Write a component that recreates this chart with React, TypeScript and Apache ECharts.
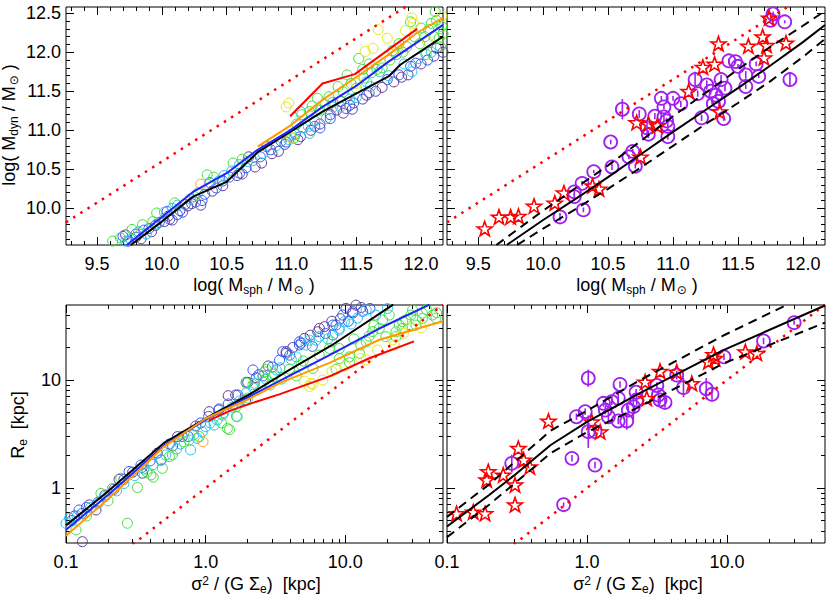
import React, { useEffect, useRef } from 'react';
import * as echarts from 'echarts';

const FONT = '"Liberation Sans", Arial, Helvetica, sans-serif';
const PURPLE = '#A020F0';
const RED = '#FF0000';

// ---------- tick values ----------
const massMajor = [9.5, 10.0, 10.5, 11.0, 11.5, 12.0];
const dynMajor = [10.0, 10.5, 11.0, 11.5, 12.0, 12.5];
const sizeMajor = [0.1, 1, 10];
const reMajor = [1, 10];

// ---------- top-left: model sample, coloured circles ----------
const TL_purple: number[][] = [[9.72,9.66],[9.84,9.61],[9.92,9.70],[10.02,9.83],[10.08,9.85],[10.20,10.03],[10.30,10.04],[10.39,10.22],[10.47,10.29],[10.62,10.44],[10.67,10.66],[10.72,10.53],[10.77,10.58],[10.90,10.73],[10.96,10.85],[11.30,11.20],[11.35,11.26],[11.45,11.32],[11.47,11.27],[11.38,11.37],[11.65,11.50],[11.79,11.62],[11.90,11.71],[12.17,12.00],[11.55,11.40],[11.15,11.00],[9.80,9.63],[9.95,9.78],[10.05,9.90],[10.14,9.97],[10.23,10.06],[10.58,10.42],[10.85,10.70],[11.05,10.88],[11.22,11.08],[11.40,11.22],[11.58,11.45],[11.70,11.55],[11.85,11.68],[12.0,11.85],[12.1,11.95]];
const TL_blue: number[][] = [[9.70,9.64],[9.80,9.67],[9.90,9.74],[10.04,9.96],[10.06,9.86],[10.16,9.95],[10.31,10.10],[10.37,10.33],[10.42,10.26],[10.60,10.45],[10.81,10.79],[10.84,10.75],[11.07,10.92],[11.18,11.05],[11.22,11.03],[11.74,11.65],[11.83,11.71],[11.92,11.82],[12.05,11.90],[10.12,9.92],[10.26,10.08],[10.52,10.40],[10.95,10.82],[11.42,11.28],[9.74,9.58],[9.86,9.72],[9.98,9.82],[10.18,10.05],[10.33,10.18],[10.47,10.35],[10.65,10.52],[10.76,10.66],[10.92,10.86],[11.03,10.95],[11.30,11.15],[11.48,11.35],[11.60,11.48],[11.96,11.86],[12.12,12.05]];
const TL_cyan: number[][] = [[9.76,9.60],[9.88,9.67],[9.96,9.80],[10.08,10.00],[10.12,10.04],[10.44,10.35],[10.60,10.56],[10.70,10.61],[11.07,11.24],[11.13,11.05],[11.09,11.03],[11.14,10.96],[11.27,11.15],[11.61,11.56],[11.68,11.75],[11.87,11.85],[11.93,11.75],[10.22,10.12],[10.54,10.48],[10.88,10.80],[11.00,10.95],[11.50,11.42],[11.32,11.30],[9.72,9.58],[9.82,9.70],[10.02,9.95],[10.28,10.20],[10.48,10.42],[10.66,10.60],[10.78,10.70],[10.98,10.88],[11.18,11.12],[11.38,11.30],[11.45,11.40],[11.58,11.62],[11.75,11.70],[11.98,11.92],[12.08,12.0]];
const TL_green: number[][] = [[9.62,9.58],[9.77,9.73],[9.93,9.83],[9.96,9.94],[10.25,10.15],[10.35,10.43],[10.55,10.58],[11.08,11.20],[11.14,11.24],[11.20,11.41],[11.22,11.26],[11.29,11.43],[11.36,11.56],[11.43,11.71],[11.50,11.54],[11.52,11.92],[11.56,11.67],[11.81,11.97],[11.83,12.11],[11.89,12.07],[11.92,12.39],[12.00,12.31],[12.03,12.20],[12.04,11.97],[12.06,12.29],[12.11,12.52],[12.12,12.41],[12.14,12.18],[12.15,12.07],[11.99,12.11],[12.10,12.20],[12.17,12.24],[11.70,11.80],[11.02,10.90],[11.32,11.36],[11.62,11.74],[9.68,9.62],[9.85,9.79],[10.10,10.07],[10.40,10.40],[10.62,10.63],[11.04,11.08],[11.16,11.31],[11.26,11.33],[11.40,11.49],[11.46,11.60],[11.60,11.85],[11.66,11.78],[11.76,11.90],[11.86,12.00],[11.95,12.20],[12.08,12.37],[12.16,12.33],[11.55,11.78],[11.78,12.02]];
const TL_yellow: number[][] = [[10.96,11.30],[10.98,11.35],[11.57,12.01],[11.63,12.05],[11.67,12.29],[11.74,12.18],[11.93,12.44],[11.94,12.37],[12.16,12.46],[11.00,10.90],[11.50,11.60],[11.82,12.06],[12.05,12.14],[11.88,12.28]];
const TL_orange: number[][] = [[10.30,10.31]];

const TL_black: number[][] = [[9.76,9.53],[10.0,9.83],[10.24,10.15],[10.5,10.34],[10.74,10.72],[10.99,10.98],[11.24,11.24],[11.51,11.48],[11.75,11.69],[11.84,11.84],[12.17,12.2]];
const TL_blueLine: number[][] = [[9.73,9.53],[10.0,9.89],[10.24,10.21],[10.5,10.45],[10.74,10.75],[10.99,11.0],[11.24,11.30],[11.51,11.58],[11.75,11.88],[12.17,12.35]];
const TL_orangeLine: number[][] = [[10.74,10.79],[11.0,11.07],[11.24,11.39],[11.49,11.67],[11.75,11.97],[11.97,12.25],[12.17,12.44]];
const TL_redLine: number[][] = [[10.99,11.18],[11.24,11.6],[11.49,11.72],[11.97,12.3]];
const massOneToOne: number[][] = [[9.26,9.82],[11.88,12.58]];

// ---------- top-right: observed ----------
const TR_circles: number[][] = [[10.13,9.89,0.05],[10.24,10.21,0.04],[10.24,10.15,0.04],[10.30,10.32,0.03],[10.31,9.98,0.03],[10.39,10.47,0.02],[10.52,10.85,0.03],[10.53,10.53,0.04],[10.61,11.27,0.13],[10.66,10.66,0.03],[10.69,10.73,0.03],[10.71,10.54,0.03],[10.74,11.21,0.05],[10.80,11.03,0.10],[10.81,10.95,0.05],[10.86,11.18,0.04],[10.91,11.41,0.03],[10.93,11.30,0.03],[10.93,11.17,0.05],[10.95,11.12,0.04],[10.96,11.05,0.04],[10.96,10.92,0.04],[11.00,11.41,0.03],[11.06,11.34,0.04],[11.17,11.65,0.10],[11.19,11.47,0.04],[11.22,11.16,0.04],[11.26,11.58,0.06],[11.29,11.50,0.04],[11.33,11.45,0.04],[11.31,11.34,0.03],[11.35,11.37,0.04],[11.37,11.65,0.06],[11.40,11.54,0.04],[11.39,11.15,0.03],[11.43,11.89,0.03],[11.48,11.88,0.02],[11.50,11.82,0.03],[11.56,11.71,0.05],[11.56,11.56,0.03],[11.64,11.85,0.03],[11.66,11.69,0.02],[11.77,12.49,0.03],[11.75,12.41,0.03],[11.86,12.39,0.02],[11.90,11.65,0.09]];
const TR_stars: number[][] = [[9.55,9.74],[9.66,9.89],[9.75,9.89],[9.81,9.90],[9.93,10.03],[10.09,10.07],[10.16,10.20],[10.38,10.29],[10.43,10.25],[10.75,10.66],[10.72,11.10],[10.81,11.08],[10.88,11.06],[11.12,11.50],[11.23,11.81],[11.32,11.85],[11.35,12.11],[11.36,11.24],[11.58,12.08],[11.69,12.20],[11.72,12.09],[11.70,11.93],[11.87,12.12],[11.74,12.44]];
const TR_fit: number[][] = [[9.72,9.53],[10.0,9.85],[10.25,10.12],[10.5,10.40],[10.75,10.69],[11.0,10.98],[11.25,11.26],[11.5,11.54],[11.75,11.83],[12.0,12.13],[12.17,12.35]];
const TR_fitHi: number[][] = [[9.64,9.53],[10.0,9.97],[10.25,10.26],[10.5,10.55],[10.75,10.86],[11.0,11.18],[11.25,11.48],[11.5,11.78],[11.75,12.07],[12.0,12.34],[12.17,12.53]];
const TR_fitLo: number[][] = [[9.80,9.53],[10.0,9.74],[10.25,9.99],[10.5,10.25],[10.75,10.52],[11.0,10.80],[11.25,11.08],[11.5,11.35],[11.75,11.63],[12.0,11.94],[12.17,12.17]];

// ---------- bottom-left: model sample (kpc) ----------
const BL_purple: number[][] = [[0.131,0.318],[0.147,0.697],[0.164,0.625],[0.353,1.37],[0.628,2.99],[1.64,7.26],[1.45,7.16],[3.77,18.3],[3.77,17.7],[5.09,24.3],[6.34,28.0],[6.52,30.1],[7.08,31.2],[10.1,46.1],[11.3,41.7],[11.9,49.4],[0.24,1.2],[0.45,2.1],[2.3,10.5],[9.2,37.0],[1.06,5.09],[0.115,0.55],[0.19,0.86],[0.30,1.40],[0.55,2.55],[0.85,3.75],[2.0,9.5],[2.8,13.5],[4.2,20.0],[5.6,26.0],[8.0,35.0],[13.0,47.0]];
const BL_blue: number[][] = [[0.283,1.42],[0.344,1.63],[1.70,7.26],[1.95,9.53],[2.18,12.4],[2.57,10.9],[3.38,15.3],[3.56,18.3],[4.69,22.6],[4.82,21.9],[4.69,21.1],[8.13,26.1],[8.57,32.3],[9.57,40.0],[11.3,43.0],[0.11,0.50],[0.13,0.58],[0.17,0.74],[0.22,0.97],[0.40,1.78],[0.58,2.45],[0.75,3.0],[1.05,4.6],[1.25,5.4],[13.3,43.3],[8.13,32.3],[1.24,5.27],[1.93,6.53],[0.478,1.82],[0.124,0.625],[0.14,0.66],[0.26,1.20],[0.35,1.55],[0.68,3.00],[0.92,4.00],[1.45,6.0],[2.4,11.2],[3.0,13.2],[4.0,17.0],[5.8,20.5],[7.2,27.0],[10.5,35.0],[15.0,46.0]];
const BL_cyan: number[][] = [[0.106,0.524],[0.518,2.02],[0.78,2.25],[0.946,3.31],[2.24,9.33],[3.2,12.4],[4.45,16.4],[5.24,21.1],[6.17,23.4],[9.02,29.0],[14.1,44.5],[1.66,4.61],[0.12,0.55],[0.15,0.66],[0.19,0.83],[0.26,1.10],[0.31,1.30],[0.36,1.50],[0.66,2.55],[0.87,2.88],[1.15,3.83],[1.35,5.0],[1.55,5.6],[1.95,7.6],[2.7,10.2],[5.53,23.4],[6.52,25.2],[9.06,30.1],[12.2,37.5],[9.84,34.7],[1.0,3.70],[1.21,4.27],[1.32,4.74],[0.10,0.47],[0.17,0.72],[0.23,0.94],[0.42,1.65],[0.48,1.80],[0.62,2.30],[0.82,3.10],[1.08,4.00],[1.75,6.40],[2.2,8.4],[3.4,13.0],[4.1,15.5],[7.5,24.0],[11.0,33.0],[16.5,40.0],[20.0,46.0]];
const BL_green: number[][] = [[0.118,0.408],[0.275,0.471],[0.325,1.01],[0.405,1.32],[0.421,1.26],[0.49,1.52],[1.43,3.56],[1.68,4.57],[1.48,3.47],[2.56,9.64],[2.64,11.9],[3.03,10.7],[4.82,13.8],[9.06,19.6],[10.7,16.4],[12.6,17.7],[14.1,22.6],[15.7,28.1],[17.5,30.1],[18.5,36.0],[20.6,40.0],[23.0,25.2],[24.3,32.3],[25.7,30.1],[29.4,40.0],[32.0,32.3],[35.6,37.2],[30.3,44.5],[42.1,40.0],[7.69,19.6],[5.85,12.8],[9.06,15.8],[12.9,21.1],[14.8,25.5],[19.5,25.2],[23.0,28.0],[25.7,34.7],[32.0,36.0],[35.6,41.7],[44.5,37.5],[1.95,9.38],[2.18,9.06],[2.71,12.6],[3.11,11.35],[3.98,12.6],[4.45,10.9],[8.57,12.6],[10.7,14.5],[1.66,5.7],[0.178,0.89],[0.215,0.99],[0.247,1.23],[0.70,2.68],[0.76,2.78],[0.578,2.02],[0.14,0.55],[0.2,0.76],[0.38,1.40],[0.55,1.95],[0.9,3.0],[1.3,4.0],[2.0,6.8],[2.9,9.0],[3.5,10.2],[5.0,15.0],[6.5,17.0],[8.0,22.5],[11.5,24.0],[16.0,32.0],[27.0,36.0],[38.0,45.0],[45.0,42.0]];
const BL_yellow: number[][] = [[5.69,9.31],[6.89,10.0],[12.9,15.8],[22.4,21.1],[5.53,8.73],[14.1,15.4],[21.8,23.6],[29.4,31.4],[5.09,9.77],[5.85,9.12],[8.0,12.0],[10.0,13.5],[17.0,19.0],[26.0,27.0],[35.0,30.5]];
const BL_orange: number[][] = [[0.957,2.68]];

const BL_black: number[][] = [[0.1,0.45],[0.2,0.93],[0.5,2.6],[1.0,4.4],[2.0,7.2],[4.0,12.5],[8.0,21.0],[22,50]];
const BL_blueLine: number[][] = [[0.1,0.41],[0.2,0.86],[0.5,2.45],[1.0,4.3],[2.0,6.9],[4.0,11.0],[7.7,17.0],[17.5,30.0],[40,50]];
const BL_orangeLine: number[][] = [[0.1,0.36],[0.2,0.79],[0.5,2.4],[1.0,4.4],[2.0,6.6],[3.4,9.4],[7.7,14.4],[17.5,23.6],[50,35]];
const BL_redLine: number[][] = [[1.05,4.2],[1.5,5.2],[2.3,6.3],[3.4,7.4],[7.7,10.8],[15,16],[31,22.8]];
const sizeOneToOne: number[][] = [[0.3,0.3],[50,50]];

// ---------- bottom-right: observed (kpc), error in dex ----------
const BR_circles: number[][] = [[0.29,1.69,0.08],[0.68,0.70,0.02],[0.78,1.88,0.03],[0.84,4.57,0.03],[0.97,5.09,0.03],[1.02,10.4,0.08],[1.02,3.32,0.15],[1.14,3.32,0.04],[1.14,1.63,0.03],[1.31,6.08,0.03],[1.35,5.27,0.04],[1.42,4.57,0.05],[1.50,6.3,0.03],[1.67,6.77,0.04],[1.67,4.17,0.03],[1.72,9.1,0.03],[1.92,4.17,0.08],[1.97,5.27,0.04],[2.14,5.66,0.12],[2.24,7.7,0.03],[2.26,6.53,0.05],[3.15,8.9,0.03],[3.23,7.26,0.05],[3.32,6.53,0.04],[3.6,6.2,0.05],[4.37,11.1,0.04],[4.88,8.5,0.09],[7.1,8.3,0.1],[7.8,7.37,0.05],[9.5,16.4,0.03],[18.2,23.0,0.03],[30.1,34.0,0.02]];
const BR_stars: number[][] = [[0.117,0.58],[0.154,0.60],[0.187,0.58],[0.197,1.42],[0.192,1.19],[0.252,1.32],[0.323,2.33],[0.306,1.07],[0.306,0.70],[0.353,1.82],[0.39,1.57],[0.53,4.17],[1.08,4.11],[1.24,3.32],[2.6,9.6],[2.67,6.77],[3.32,12.1],[4.37,11.9],[5.6,9.3],[7.35,14.8],[8.2,15.9],[8.0,17.3],[13.5,18.3],[16.3,17.7]];
const BR_fit: number[][] = [[0.1,0.44],[0.2,0.86],[0.3,1.3],[0.55,2.5],[1.0,4.1],[2.4,7.6],[9.5,19],[50,49]];
const BR_fitHi: number[][] = [[0.1,0.54],[0.2,1.08],[0.55,3.4],[1.0,5.2],[2.4,10],[9.5,26],[27,50]];
const BR_fitLo: number[][] = [[0.1,0.35],[0.2,0.7],[0.55,2.1],[1.0,3.3],[2.4,5.7],[9.5,14.3],[50,34]];

// ---------- helpers ----------
const L = (v: number) => Math.log10(v);
const logPts = (d: number[][]) => d.map(p => [L(p[0]), L(p[1])]);
const logErr = (d: number[][]) => d.map(p => [L(p[0]), L(p[1]), p[2]]);
const steps = (a: number, b: number, s: number) => {
  const out: number[] = [];
  for (let v = a; v <= b + 1e-9; v += s) out.push(Math.round(v * 100) / 100);
  return out;
};
const logMinor = (lo: number, hi: number) => {
  const out: number[] = [];
  [0.1, 1, 10].forEach(dec => { for (let k = 2; k <= 9; k++) { const v = k * dec; if (v > lo && v < hi) out.push(L(v)); } });
  return out;
};

const STAR = 'path://M0,-10 L2.35,-3.24 L9.51,-3.09 L3.8,1.24 L5.88,8.09 L0,4 L-5.88,8.09 L-3.8,1.24 L-9.51,-3.09 L-2.35,-3.24 Z';

function axes(grid: number, dim: 'x' | 'y', min: number, max: number, majors: number[], minors: number[], fmt: ((v: number) => string) | null) {
  const pos = dim === 'x' ? ['bottom', 'top', 'bottom', 'top'] : ['left', 'right', 'left', 'right'];
  return pos.map((p, i) => ({
    type: 'value', gridIndex: grid, position: p, min, max,
    axisLine: { show: false, onZero: false },
    splitLine: { show: false },
    axisPointer: { show: false },
    axisTick: { show: true, inside: true, length: i < 2 ? 8 : 4, customValues: i < 2 ? majors : minors, lineStyle: { color: '#000', width: 1 } },
    axisLabel: i === 0 && fmt ? { show: true, customValues: majors, formatter: fmt, color: '#000', fontSize: 18, fontFamily: FONT, margin: dim === 'x' ? 10 : 5 } : { show: false },
  }));
}

function sc(g: number, data: number[][], color: string, size: number, bw: number, symbol = 'circle') {
  return { type: 'scatter', xAxisIndex: 4 * g, yAxisIndex: 4 * g, data, symbol, symbolSize: size, symbolKeepAspect: true, silent: true, z: 2,
    itemStyle: { color: 'rgba(0,0,0,0)', borderColor: color, borderWidth: bw, opacity: 1 } };
}
function ln(g: number, data: number[][], color: string, width: number, type: any = 'solid', z = 4) {
  return { type: 'line', xAxisIndex: 4 * g, yAxisIndex: 4 * g, data, symbol: 'none', showSymbol: false, silent: true, clip: true, z,
    lineStyle: { color, width, type, cap: 'butt' } };
}
function err(g: number, data: number[][]) {
  return { type: 'custom', xAxisIndex: 4 * g, yAxisIndex: 4 * g, data, silent: true, z: 3, clip: true,
    encode: { x: 0, y: 1 },
    renderItem: (_p: any, api: any) => {
      const x = api.value(0), y = api.value(1), e = api.value(2);
      const a = api.coord([x, y - e]); const b = api.coord([x, y + e]);
      return { type: 'line', shape: { x1: a[0], y1: a[1], x2: b[0], y2: b[1] }, style: { stroke: PURPLE, lineWidth: 1.6 } };
    } };
}

const COL = { purple: '#5E3A98', blue: '#2F55F5', cyan: '#22C4EE', green: '#3CE23C', yellow: '#E6E61E', orange: '#FFA020' };
const DOT = [2.5, 6];

const sub = { fontSize: 12, fontFamily: FONT, padding: [9, 0, 0, 0] };
const sun = { fontSize: 12, fontFamily: '"DejaVu Sans", sans-serif', padding: [9, 0, 0, 1] };
const main = { fontSize: 18, fontFamily: FONT };
const sup = { fontSize: 12, fontFamily: FONT, padding: [0, 0, 7, 0] };

function title(x: number, y: number, text: string, rot = 0) {
  return { type: 'text', x, y, rotation: rot, silent: true,
    style: { text, fill: '#000', align: 'center', verticalAlign: 'middle', rich: { m: main, s: sub, o: sun, u: sup } } };
}

export default function App() {
  const ref = useRef<HTMLDivElement>(null);
  useEffect(() => {
    if (!ref.current) return;
    const chart = echarts.init(ref.current, null, { renderer: 'svg' });
    const mFmt = (v: number) => v.toFixed(1);
    const sFmt = (v: number) => Math.pow(10, v).toFixed(1);
    const rFmt = (v: number) => String(Math.round(Math.pow(10, v)));
    const mMinX = steps(9.3, 12.1, 0.1), mMinY = steps(9.6, 12.5, 0.1);
    const xLogMin = -1, xLogMax = L(50), yLogMin = -0.51, yLogMax = 1.695;
    const sMinX = logMinor(0.1, 50), sMinY = logMinor(0.31, 50);
    const grids = [
      { left: 66, top: 7, width: 377, height: 238 },
      { left: 447, top: 7, width: 378, height: 238 },
      { left: 66, top: 305, width: 377, height: 238 },
      { left: 447, top: 305, width: 378, height: 238 },
    ].map(g => ({ ...g, show: true, borderColor: '#000', borderWidth: 1, backgroundColor: 'transparent', containLabel: false }));

    const xAxis = [
      ...axes(0, 'x', 9.26, 12.17, massMajor, mMinX, mFmt),
      ...axes(1, 'x', 9.26, 12.17, massMajor, mMinX, mFmt),
      ...axes(2, 'x', xLogMin, xLogMax, sizeMajor.map(L), sMinX, sFmt),
      ...axes(3, 'x', xLogMin, xLogMax, sizeMajor.map(L), sMinX, sFmt),
    ];
    const yAxis = [
      ...axes(0, 'y', 9.53, 12.58, dynMajor, mMinY, mFmt),
      ...axes(1, 'y', 9.53, 12.58, dynMajor, mMinY, null),
      ...axes(2, 'y', yLogMin, yLogMax, reMajor.map(L), sMinY, rFmt),
      ...axes(3, 'y', yLogMin, yLogMax, reMajor.map(L), sMinY, null),
    ];

    const series: any[] = [
      // top-left
      sc(0, TL_purple, COL.purple, 10, 1), sc(0, TL_blue, COL.blue, 10, 1), sc(0, TL_cyan, COL.cyan, 10, 1),
      sc(0, TL_green, COL.green, 10, 1), sc(0, TL_yellow, COL.yellow, 10, 1), sc(0, TL_orange, COL.orange, 10, 1),
      ln(0, massOneToOne, RED, 2.5, DOT),
      ln(0, TL_black, '#000', 2), ln(0, TL_blueLine, '#2222FF', 2), ln(0, TL_orangeLine, '#FF9A00', 2), ln(0, TL_redLine, RED, 2),
      // top-right
      ln(1, massOneToOne, RED, 2.5, DOT),
      ln(1, TR_fit, '#000', 2), ln(1, TR_fitHi, '#000', 2, [9, 6]), ln(1, TR_fitLo, '#000', 2, [9, 6]),
      err(1, TR_circles), sc(1, TR_circles.map(p => [p[0], p[1]]), PURPLE, 13, 1.8),
      sc(1, TR_stars, RED, 15, 1.6, STAR),
      // bottom-left
      sc(2, logPts(BL_purple), COL.purple, 10, 1), sc(2, logPts(BL_blue), COL.blue, 10, 1), sc(2, logPts(BL_cyan), COL.cyan, 10, 1),
      sc(2, logPts(BL_green), COL.green, 10, 1), sc(2, logPts(BL_yellow), COL.yellow, 10, 1), sc(2, logPts(BL_orange), COL.orange, 10, 1),
      ln(2, logPts(sizeOneToOne), RED, 2.5, DOT),
      ln(2, logPts(BL_black), '#000', 2), ln(2, logPts(BL_blueLine), '#2222FF', 2), ln(2, logPts(BL_orangeLine), '#FF9A00', 2), ln(2, logPts(BL_redLine), RED, 2),
      // bottom-right
      ln(3, logPts(sizeOneToOne), RED, 2.5, DOT),
      ln(3, logPts(BR_fit), '#000', 2), ln(3, logPts(BR_fitHi), '#000', 2, [9, 6]), ln(3, logPts(BR_fitLo), '#000', 2, [9, 6]),
      err(3, logErr(BR_circles)), sc(3, logPts(BR_circles), PURPLE, 13, 1.8),
      sc(3, logPts(BR_stars), RED, 15, 1.6, STAR),
    ];

    const mx = '{m|log( M}{s|sph}{m| / M}{o|⊙}{m| )}';
    const sx = '{m|σ}{u|2}{m| / (G Σ}{s|e}{m|)  [kpc]}';
    chart.setOption({
      animation: false,
      backgroundColor: '#fff',
      grid: grids,
      xAxis, yAxis, series,
      graphic: [
        title(254, 285, mx), title(637, 285, mx),
        title(256, 584, sx), title(638, 584, sx),
        title(9, 125, '{m|log( M}{s|dyn}{m| / M}{o|⊙}{m| )}', Math.PI / 2),
        title(18, 425, '{m|R}{s|e}{m|  [kpc]}', Math.PI / 2),
      ],
    });
    return () => chart.dispose();
  }, []);
  return <div ref={ref} style={{ position: 'absolute', left: 0, top: 0, width: 830, height: 596 }} />;
}
